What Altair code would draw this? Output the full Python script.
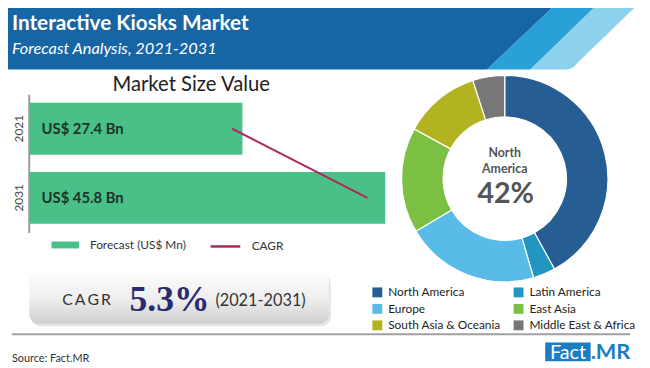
import altair as alt
import pandas as pd

# ---------------- data ----------------
years = ["2021", "2031"]
year_nums = [2021, 2031]
market_value_bn = [27.4, 45.8]
bar_series = "Forecast (US$ Mn)"
line_series = "CAGR"
cagr_pct = 5.3

regions = ["North America", "Latin America", "Europe", "East Asia",
           "South Asia & Oceania", "Middle East & Africa"]
region_share = [42, 3.5, 21, 16.5, 12, 5]

# ---------------- styles ----------------
region_colors = ["#265e94", "#2295c1", "#59bbe7", "#7cc043", "#b3b221", "#777777"]
GREEN = "#48c088"
MAGENTA = "#b0285c"
BLUE_DARK = "#1666a6"
BLUE_MID = "#2aa0d8"
BLUE_LIGHT = "#8dd2ec"
LOGO_BLUE = "#1b7dc2"
FONT = "Lato"

OFF = 8  # page margin


def c(v):
    return v - OFF


bar_df = pd.DataFrame({
    "year": years,
    "year_num": year_nums,
    "value": market_value_bn,
    "series": [bar_series] * len(years),
    "line_series": [line_series] * len(years),
})
donut_df = pd.DataFrame({"region": regions, "share": region_share,
                         "idx": list(range(len(regions)))})
one = pd.DataFrame({"k": [0]})


def shape(path, color):
    return alt.Chart(one).mark_point(shape=path, size=4, filled=True, fill=color,
                                     opacity=1, strokeWidth=0).encode(
        x=alt.value(0), y=alt.value(0))


def label(txt, x, y, size, color="#333333", weight="normal", style="normal",
          align="left", font=FONT):
    return alt.Chart(one).mark_text(text=txt, font=font, fontSize=size, color=color,
                                    fontWeight=weight, fontStyle=style, align=align,
                                    baseline="alphabetic").encode(
        x=alt.value(x), y=alt.value(y))


# ---------------- header ----------------
hdr_dark = shape(f"M-8,-8H{c(565)}L{c(493)},{c(68)}H-8Z", BLUE_DARK)
hdr_mid = shape(f"M{c(565)},-8H{c(607)}L{c(537)},{c(68)}H{c(493)}Z", BLUE_MID)
hdr_light = shape(
    f"M{c(607)},-8H{c(648)}L{c(584)},{c(62)}Q{c(580)},{c(68)} {c(573)},{c(68)}H{c(537)}Z",
    BLUE_LIGHT)
title = label("Interactive Kiosks Market", c(12), c(28.5), 21, "white", "bold")
subtitle = label("Forecast Analysis, 2021-2031", c(12), c(52.7), 16.5, "white",
                 style="italic")

# ---------------- bar chart ----------------
y_scale = alt.Scale(domain=years, range=[c(93), c(233)], paddingInner=0.25,
                    paddingOuter=0.125)
x_scale = alt.Scale(domain=[0, 45.8], range=[c(30), c(390)], nice=False, zero=True)

msv_title = label("Market Size Value", c(193.5), c(90), 20.5, "#222222", align="center")

bars = alt.Chart(bar_df).mark_bar(color=GREEN).encode(
    x=alt.X("value:Q", scale=x_scale, axis=None),
    y=alt.Y("year:N", scale=y_scale,
            axis=alt.Axis(title=None, ticks=False, grid=False, domainColor="#9a9a9a",
                          domainWidth=2, labelAngle=-90, labelAlign="center",
                          labelBaseline="bottom", labelPadding=3, labelFont=FONT,
                          labelFontSize=12, labelColor="#444444", offset=-21)),
    color=alt.Color("series:N", scale=alt.Scale(domain=[bar_series], range=[GREEN]),
                    legend=alt.Legend(title=None, orient="none", legendX=c(59),
                                      legendY=c(245.7) - 7, padding=0,
                                      symbolType="M-2,-0.5H2V0.5H-2Z", symbolSize=196,
                                      symbolStrokeWidth=0, labelFont=FONT,
                                      labelFontSize=12, labelColor="#333333",
                                      labelOffset=18)),
)

bar_text = alt.Chart(bar_df).transform_calculate(
    lbl="'US$ ' + format(datum.value, '.1f') + ' Bn'"
).mark_text(align="left", baseline="middle", font=FONT, fontWeight="bold",
            fontSize=15, color="#1d3327").encode(
    x=alt.value(c(42)),
    y=alt.Y("year:N", scale=y_scale, axis=None),
    text="lbl:N",
)

cagr_line = alt.Chart(bar_df).mark_line(strokeWidth=2).encode(
    x=alt.X("year_num:Q", scale=alt.Scale(domain=[2021, 2031], range=[c(235), c(372)],
                                          nice=False, zero=False), axis=None),
    y=alt.Y("year:N", scale=y_scale, axis=None),
    stroke=alt.Stroke("line_series:N",
                      scale=alt.Scale(domain=[line_series], range=[MAGENTA]),
                      legend=alt.Legend(title=None, orient="none", legendX=c(211.7),
                                        legendY=c(245.7) - 15, padding=0,
                                        symbolType="stroke", symbolSize=900,
                                        symbolStrokeWidth=2.5, labelFont=FONT,
                                        labelFontSize=12, labelColor="#333333",
                                        labelOffset=10)),
)

# ---------------- CAGR box ----------------
box_shadow = alt.Chart(one).mark_rect(cornerRadius=10, fill="#000000",
                                      opacity=0.10).encode(
    x=alt.value(c(31)), x2=alt.value(c(335)), y=alt.value(c(276)), y2=alt.value(c(328)))
box = alt.Chart(one).mark_rect(
    cornerRadius=10,
    fill=alt.Gradient(gradient="linear", x1=0, x2=0, y1=0, y2=1,
                      stops=[alt.GradientStop(color="#fcfcfc", offset=0),
                             alt.GradientStop(color="#efefef", offset=0.5),
                             alt.GradientStop(color="#cfcfcf", offset=1)]),
).encode(x=alt.value(c(29.5)), x2=alt.value(c(333)), y=alt.value(c(273.5)),
         y2=alt.value(c(325.5)))
cagr_word = label("C\u2009A\u2009G\u2009R", c(63), c(306.7), 16, "#333333")
cagr_num = label(f"{cagr_pct}%", c(131), c(313), 36, "#2a2a6e", "bold",
                 font="Liberation Serif")
cagr_period = label("(2021-2031)", c(218), c(307.5), 16.5, "#333333")

# ---------------- donut ----------------
CX, CY = c(511), c(178.5)
donut = alt.Chart(donut_df).mark_arc(innerRadius=62.5, outerRadius=104.5,
                                     stroke="white", strokeWidth=1.2).encode(
    theta=alt.Theta("share:Q", stack=True),
    color=alt.Color("region:N", scale=alt.Scale(domain=regions, range=region_colors),
                    legend=alt.Legend(title=None, orient="none", legendX=c(376),
                                      legendY=c(291.7) - 4, padding=0, columns=2,
                                      direction="horizontal",
                                      symbolType="square", symbolSize=100,
                                      symbolStrokeWidth=0, labelFont=FONT,
                                      labelFontSize=12, labelColor="#222222",
                                      labelOffset=5, rowPadding=4.7,
                                      columnPadding=12)),
    order=alt.Order("idx:Q"),
    x=alt.value(CX), y=alt.value(CY),
)
top_region = alt.Chart(donut_df).transform_filter("datum.idx == 0").transform_calculate(
    w1="split(datum.region, ' ')[0]",
    w2="split(datum.region, ' ')[1]",
    pct="format(datum.share, 'd') + '%'",
)
center_txt = dict(font=FONT, fontWeight="bold", color="#555555", align="center",
                  baseline="alphabetic")
center_w1 = top_region.mark_text(fontSize=12.5, **center_txt).encode(
    x=alt.value(c(511)), y=alt.value(c(157)), text="w1:N")
center_w2 = top_region.mark_text(fontSize=12.5, **center_txt).encode(
    x=alt.value(c(511)), y=alt.value(c(172.5)), text="w2:N")
center_pct = top_region.mark_text(fontSize=29, **center_txt).encode(
    x=alt.value(c(512)), y=alt.value(c(203)), text="pct:N")

# ---------------- footer ----------------
footer_rule = alt.Chart(one).mark_rule(color="#a0a0a0", strokeWidth=2).encode(
    x=alt.value(c(12)), x2=alt.value(c(638)), y=alt.value(c(336)))
source = label("Source: Fact.MR", c(12), c(364), 11, "#333333")
logo_box = alt.Chart(one).mark_rect(fill=LOGO_BLUE).encode(
    x=alt.value(c(552)), x2=alt.value(c(598)), y=alt.value(c(344.5)),
    y2=alt.value(c(363.5)))
logo_fact = label("Fact", c(575), c(360.7), 20, "white", align="center")
logo_mr = label(".MR", c(598), c(360.7), 22, LOGO_BLUE, "bold")

chart = alt.layer(
    hdr_dark, hdr_mid, hdr_light, title, subtitle,
    msv_title, bars, bar_text, cagr_line,
    box_shadow, box, cagr_word, cagr_num, cagr_period,
    donut, center_w1, center_w2, center_pct,
    footer_rule, source, logo_box, logo_fact, logo_mr,
).resolve_scale(
    x="independent", y="independent", color="independent", stroke="independent",
    theta="independent",
).properties(
    width=642, height=360, autosize="none", padding=0, background="white",
).configure_view(strokeWidth=0)

chart.save("out.html", embed_options={"renderer": "svg", "actions": False})
